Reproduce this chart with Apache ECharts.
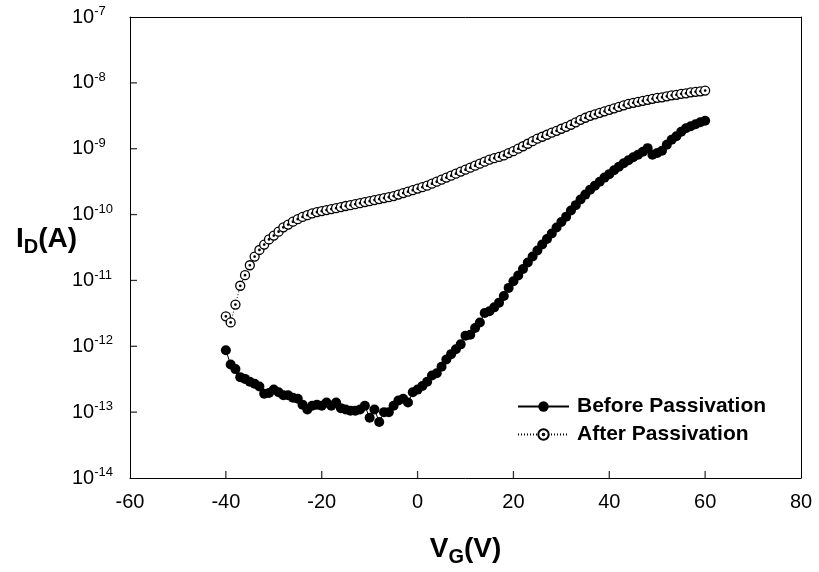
<!DOCTYPE html>
<html>
<head>
<meta charset="utf-8">
<script src="https://cdn.jsdelivr.net/npm/echarts@6/dist/echarts.min.js"></script>
<style>
html,body{margin:0;padding:0;background:#fff;}
#chart{width:819px;height:572px;}
</style>
</head>
<body>
<div id="chart"></div>
<script>
// Gate voltage (V)
var vg = [];
for (var v = -40; v <= 60; v++) vg.push(v);

// Drain current before passivation (A)
var beforePassivation = [
  8.7e-13, 5.3e-13, 4.5e-13, 3.4e-13, 3.2e-13, 2.9e-13, 2.7e-13, 2.45e-13, 1.9e-13, 1.95e-13,
  2.2e-13, 2.0e-13, 1.8e-13, 1.8e-13, 1.65e-13, 1.6e-13, 1.3e-13, 1.1e-13, 1.25e-13, 1.3e-13,
  1.25e-13, 1.4e-13, 1.25e-13, 1.4e-13, 1.15e-13, 1.1e-13, 1.05e-13, 1.05e-13, 1.1e-13, 1.25e-13,
  8.2e-14, 1.1e-13, 7.1e-14, 1.0e-13, 1.0e-13, 1.25e-13, 1.5e-13, 1.6e-13, 1.4e-13, 2.0e-13,
  2.2e-13, 2.5e-13, 2.9e-13, 3.6e-13, 3.9e-13, 4.9e-13, 6.3e-13, 7.6e-13, 9.0e-13, 1.07e-12,
  1.45e-12, 1.5e-12, 1.9e-12, 2.3e-12, 3.2e-12, 3.4e-12, 3.9e-12, 4.6e-12, 5.8e-12, 7.7e-12,
  9.7e-12, 1.19e-11, 1.49e-11, 1.87e-11, 2.31e-11, 2.85e-11, 3.51e-11, 4.25e-11, 5.15e-11, 6.35e-11,
  7.7e-11, 9.3e-11, 1.15e-10, 1.39e-10, 1.69e-10, 2.01e-10, 2.39e-10, 2.75e-10, 3.16e-10, 3.64e-10,
  4.11e-10, 4.72e-10, 5.33e-10, 6.03e-10, 6.7e-10, 7.43e-10, 8.11e-10, 9.0e-10, 1.02e-9, 8.1e-10,
  8.6e-10, 9.3e-10, 1.15e-9, 1.37e-9, 1.55e-9, 1.81e-9, 2.05e-9, 2.19e-9, 2.35e-9, 2.52e-9,
  2.66e-9
];

// Drain current after passivation (A)
var afterPassivation = [
  2.85e-12, 2.3e-12, 4.3e-12, 8.3e-12, 1.2e-11, 1.7e-11, 2.3e-11, 2.9e-11, 3.5e-11, 4.2e-11,
  4.8e-11, 5.5e-11, 6.4e-11, 7.05e-11, 7.8e-11, 8.5e-11, 9.2e-11, 9.8e-11, 1.04e-10, 1.09e-10,
  1.13e-10, 1.17e-10, 1.21e-10, 1.25e-10, 1.30e-10, 1.35e-10, 1.39e-10, 1.44e-10, 1.49e-10, 1.55e-10,
  1.60e-10, 1.66e-10, 1.72e-10, 1.78e-10, 1.84e-10, 1.91e-10, 2.01e-10, 2.12e-10, 2.23e-10, 2.35e-10,
  2.48e-10, 2.61e-10, 2.75e-10, 2.95e-10, 3.16e-10, 3.39e-10, 3.64e-10, 3.90e-10, 4.18e-10, 4.49e-10,
  4.81e-10, 5.16e-10, 5.53e-10, 5.93e-10, 6.35e-10, 6.81e-10, 7.18e-10, 7.5e-10, 7.9e-10, 8.6e-10,
  9.16e-10, 1.0e-9, 1.09e-9, 1.19e-9, 1.30e-9, 1.42e-9, 1.52e-9, 1.63e-9, 1.75e-9, 1.87e-9,
  2.01e-9, 2.15e-9, 2.31e-9, 2.52e-9, 2.75e-9, 2.95e-9, 3.16e-9, 3.33e-9, 3.51e-9, 3.70e-9,
  3.90e-9, 4.11e-9, 4.33e-9, 4.56e-9, 4.81e-9, 4.98e-9, 5.15e-9, 5.33e-9, 5.52e-9, 5.72e-9,
  5.93e-9, 6.03e-9, 6.24e-9, 6.47e-9, 6.58e-9, 6.81e-9, 6.93e-9, 7.18e-9, 7.31e-9, 7.43e-9,
  7.64e-9
];

var seriesNames = ['Before Passivation', 'After Passivation'];
var xTicks = [-60, -40, -20, 0, 20, 40, 60, 80];
var yTicks = [1e-14, 1e-13, 1e-12, 1e-11, 1e-10, 1e-9, 1e-8, 1e-7];

function pairs(ys) {
  return vg.map(function (x, i) { return [x, ys[i]]; });
}

var FONT = 'Arial, "Liberation Sans", sans-serif';
var ringDot = 'path://M0,-10A10,10 0 1,1 0,10A10,10 0 1,1 0,-10Z M0,-1.6A1.6,1.6 0 1,1 0,1.6A1.6,1.6 0 1,1 0,-1.6Z';

var nameRich = {
  m: {fontFamily: FONT, fontSize: 28, fontWeight: 'bold', color: '#000', lineHeight: 32, verticalAlign: 'top'},
  sub: {fontFamily: FONT, fontSize: 20, fontWeight: 'bold', color: '#000', lineHeight: 20, verticalAlign: 'bottom', padding: [18, 0, 0, 0]}
};
var frameAxis = {
  axisLine: {show: true, onZero: false, lineStyle: {color: '#000', width: 1}},
  axisTick: {show: false}, axisLabel: {show: false}, splitLine: {show: false}
};

// tick-mark positions on the bottom and left axes (inner ticks only)
var xTickMarks = xTicks.slice(1, -1).map(function (t) { return [t, yTicks[0]]; });
var yTickMarks = yTicks.slice(1, -1).map(function (t) { return [xTicks[0], t]; });

var chart = echarts.init(document.getElementById('chart'), null, {renderer: 'canvas'});
chart.setOption({
  animation: false,
  backgroundColor: '#fff',
  grid: {left: 130, right: 18, top: 17, bottom: 93, show: false},
  legend: {
    left: 512, top: 391, orient: 'vertical',
    itemWidth: 51, itemHeight: 13, itemGap: 7,
    data: seriesNames,
    textStyle: {
      fontFamily: FONT, fontSize: 21, fontWeight: 'bold', color: '#000',
      lineHeight: 20, padding: [0, 0, 0, 3]
    }
  },
  xAxis: [{
    type: 'value', position: 'bottom', min: xTicks[0], max: xTicks[xTicks.length - 1], interval: 20,
    name: '{m|V}{sub|G}{m|(V)}', nameLocation: 'middle', nameGap: 57, nameMoveOverlap: false,
    nameTextStyle: {rich: nameRich},
    axisLine: {show: true, onZero: false, lineStyle: {color: '#000', width: 1}},
    axisTick: {show: false},
    axisLabel: {fontFamily: FONT, fontSize: 20, color: '#000', margin: 14},
    splitLine: {show: false}
  }, Object.assign({type: 'value', position: 'top', min: xTicks[0], max: xTicks[xTicks.length - 1]}, frameAxis)],
  yAxis: [{
    type: 'log', position: 'left', logBase: 10, min: yTicks[0], max: yTicks[yTicks.length - 1], splitNumber: 7,
    name: '{m|I}{sub|D}{m|(A)}', nameLocation: 'middle', nameRotate: 0, nameGap: 53, nameMoveOverlap: false,
    nameTextStyle: {padding: [0, 0, 12, 0], rich: nameRich},
    axisLine: {show: true, onZero: false, lineStyle: {color: '#000', width: 1}},
    axisTick: {show: false},
    axisLabel: {
      margin: 58, align: 'left',
      formatter: function (val) {
        var e = Math.round(Math.log(val) / Math.LN10);
        return '{b|10}{s|' + e + '}';
      },
      rich: {
        b: {fontFamily: FONT, fontSize: 20, color: '#000', lineHeight: 24},
        s: {fontFamily: FONT, fontSize: 13, color: '#000', lineHeight: 13, verticalAlign: 'top'}
      }
    },
    minorTick: {show: false},
    splitLine: {show: false}
  }, Object.assign({type: 'log', position: 'right', logBase: 10, min: yTicks[0], max: yTicks[yTicks.length - 1]}, frameAxis)],
  series: [
    {
      name: seriesNames[1], type: 'line', data: pairs(afterPassivation),
      symbol: ringDot, symbolSize: 9, showAllSymbol: true,
      itemStyle: {color: '#fff', borderColor: '#000', borderWidth: 1.3},
      lineStyle: {color: '#000', width: 1, type: [1, 2]},
      z: 2
    },
    {
      name: seriesNames[0], type: 'line', data: pairs(beforePassivation),
      symbol: 'circle', symbolSize: 10, showAllSymbol: true,
      itemStyle: {color: '#000', borderWidth: 0},
      lineStyle: {color: '#000', width: 1, type: 'solid'},
      z: 3
    },
    {
      name: 'xTickMarks', type: 'scatter', data: xTickMarks, silent: true, clip: false,
      symbol: 'rect', symbolSize: [1.3, 7], symbolOffset: [0, -3.5],
      itemStyle: {color: '#000'}, z: 10, tooltip: {show: false}
    },
    {
      name: 'yTickMarks', type: 'scatter', data: yTickMarks, silent: true, clip: false,
      symbol: 'rect', symbolSize: [7, 1.3], symbolOffset: [3.5, 0],
      itemStyle: {color: '#000'}, z: 10, tooltip: {show: false}
    }
  ]
});
</script>
</body>
</html>
